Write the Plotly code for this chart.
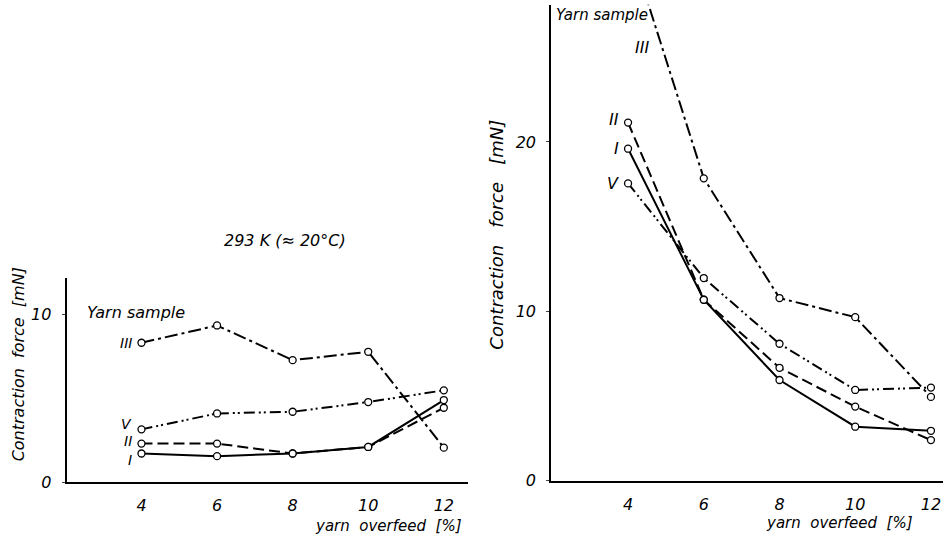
import plotly.graph_objects as go

overfeed = [4, 6, 8, 10, 12]

# Left panel: 293 K (~20 C)
left_I = [1.71, 1.55, 1.71, 2.1, 4.9]
left_II = [2.3, 2.3, 1.71, 2.1, 4.44]
left_III = [8.32, 9.35, 7.28, 7.78, 2.06]
left_V = [3.15, 4.1, 4.2, 4.78, 5.48]

# Right panel
right_I = [19.6, 10.68, 5.94, 3.18, 2.94]
right_II = [21.14, 10.68, 6.66, 4.37, 2.39]
right_III = [31.9, 17.85, 10.78, 9.65, 4.94]
right_V = [17.55, 11.96, 8.08, 5.35, 5.49]

left_yticks = [0, 10]
right_yticks = [0, 10, 20]
xticks = [4, 6, 8, 10, 12]

FONT = "DejaVu Sans"
styles = {
    "I": "solid",
    "II": "11px,5px",
    "III": "13px,4px,3px,4px",
    "V": "11px,4px,2px,3px,2px,4px",
}

fig = go.Figure()

def add_series(xa, ya, ys, key):
    fig.add_trace(go.Scatter(
        x=overfeed, y=ys, xaxis=xa, yaxis=ya, mode="lines+markers",
        line=dict(color="black", width=2, dash=styles[key]),
        marker=dict(symbol="circle", size=7, color="white",
                    line=dict(color="black", width=1.3)),
        showlegend=False, cliponaxis=True,
    ))

for ys, k in [(left_I, "I"), (left_II, "II"), (left_III, "III"), (left_V, "V")]:
    add_series("x", "y", ys, k)
for ys, k in [(right_I, "I"), (right_II, "II"), (right_III, "III"), (right_V, "V")]:
    add_series("x2", "y2", ys, k)

tickfont = dict(family=FONT, size=16, color="black", style="italic")
axcommon = dict(showgrid=False, zeroline=False, showline=True, linecolor="black",
                linewidth=2, tickfont=tickfont, tickvals=xticks)

fig.update_layout(
    width=952, height=541, autosize=False,
    margin=dict(l=0, r=0, t=0, b=0),
    paper_bgcolor="white", plot_bgcolor="white",
    xaxis=dict(domain=[0.070, 0.492], range=[2.02, 12.65], anchor="y",
               ticks="", ticklabelstandoff=8, **axcommon),
    yaxis=dict(domain=[0.092, 0.477], range=[0, 12.2], anchor="x",
               showgrid=False, zeroline=False, showline=True, linecolor="black",
               linewidth=2, tickvals=left_yticks, ticks="outside", ticklen=3,
               tickfont=tickfont, ticklabelstandoff=7),
    xaxis2=dict(domain=[0.579, 0.991], range=[1.97, 12.33], anchor="y2",
                ticks="", ticklabelstandoff=8, **axcommon),
    yaxis2=dict(domain=[0.095, 0.991], range=[0, 28.1], anchor="x2",
                showgrid=False, zeroline=False, showline=True, linecolor="black",
                linewidth=2, tickvals=right_yticks, ticks="outside", ticklen=3,
                tickfont=tickfont, ticklabelstandoff=7),
)

lab = dict(family=FONT, size=16, color="black", style="italic")
small = dict(family=FONT, size=14, color="black", style="italic")
ann = []
# left panel labels
ann.append(dict(x=2.5, y=10.1, xref="x", yref="y", text="Yarn sample",
                xanchor="left", yanchor="middle", showarrow=False, font=lab))
for t, yv in [("III", 8.33), ("V", 3.5), ("II", 2.45), ("I", 1.35)]:
    ann.append(dict(x=3.8, y=yv, xref="x", yref="y", text=t, xanchor="right",
                    yanchor="middle", showarrow=False, font=small))
# right panel labels
ann.append(dict(x=2.05, y=27.5, xref="x2", yref="y2", text="Yarn sample",
                xanchor="left", yanchor="middle", showarrow=False,
                font=dict(family=FONT, size=15, color="black", style="italic")))
ann.append(dict(x=4.6, y=25.6, xref="x2", yref="y2", text="III", xanchor="right",
                yanchor="middle", showarrow=False, font=lab))
for t, yv in [("II", 21.3), ("I", 19.6), ("V", 17.55)]:
    ann.append(dict(x=3.82, y=yv, xref="x2", yref="y2", text=t, xanchor="right",
                    yanchor="middle", showarrow=False, font=lab))
# titles
ann.append(dict(x=0.2994, y=0.547, xref="paper", yref="paper",
                xanchor="center", yanchor="middle",
                text="293 K (≈ 20°C)", showarrow=False, font=lab))
ann.append(dict(x=0.019, y=0.314, xref="paper", yref="paper", textangle=-90,
                xanchor="center", yanchor="middle",
                text="Contraction  force  [mN]", showarrow=False,
                font=dict(family=FONT, size=16, color="black", style="italic")))
ann.append(dict(x=0.522, y=0.558, xref="paper", yref="paper", textangle=-90,
                xanchor="center", yanchor="middle",
                text="Contraction   force   [mN]", showarrow=False,
                font=dict(family=FONT, size=18, color="black", style="italic")))
ann.append(dict(x=0.4076, y=0.009, xref="paper", yref="paper",
                xanchor="center", yanchor="middle",
                text="yarn  overfeed  [%]", showarrow=False,
                font=dict(family=FONT, size=15, color="black", style="italic")))
ann.append(dict(x=0.882, y=0.015, xref="paper", yref="paper",
                xanchor="center", yanchor="middle",
                text="yarn  overfeed  [%]", showarrow=False,
                font=dict(family=FONT, size=15, color="black", style="italic")))
fig.update_layout(annotations=ann)

post = (
    "document.body.style.margin='0';"
    "document.documentElement.style.overflow='hidden';"
    "document.body.style.overflow='hidden';"
)
fig.write_html("out.html",
               config={"displayModeBar": False, "responsive": False},
               post_script=post)
